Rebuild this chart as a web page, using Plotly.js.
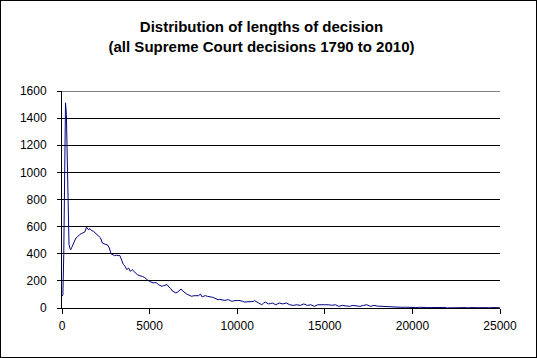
<!DOCTYPE html>
<html>
<head>
<meta charset="utf-8">
<script src="https://cdn.plot.ly/plotly-3.0.1.min.js"></script>
<style>
  html, body { margin: 0; padding: 0; background: #fff; }
  #wrap { position: relative; width: 537px; height: 358px; }
  #chart { width: 537px; height: 358px; }
  #frame { position: absolute; left: 0; top: 0; width: 535px; height: 356px; border: 1px solid #000; pointer-events: none; }
</style>
</head>
<body>
<div id="wrap"><div id="chart"></div><div id="frame"></div></div>
<script>
// Bin starts (words) and counts of decisions.
// Segment A: bins of 50 words, 0..950
const binStartA = 0, binWidthA = 50;
const countsA = [86, 98, 393, 1180, 1513, 1427, 1033, 590, 468, 440,
                 430, 445, 462, 480, 492, 505, 517, 520, 530, 541];
// Segment B: bins of 100 words, 1000..11900
const binStartB = 1000, binWidthB = 100;
const countsB = [541, 548, 553, 560, 596, 578, 585, 570, 565, 553,
                 545, 528, 517, 480, 472, 468, 465, 443, 400, 393,
                 386, 390, 386, 388, 356, 322, 307, 283, 295, 270,
                 283, 270, 255, 246, 240, 238, 232, 226, 212, 205,
                 196, 192, 185, 188, 185, 172, 165, 160, 165, 168,
                 172, 155, 145, 125, 115, 111, 118, 130, 140, 125,
                 111, 105, 98, 92, 86, 90, 91, 94, 91, 103,
                 81, 88, 91, 86, 86, 81, 79, 74, 70, 61,
                 63, 61, 58, 56, 60, 61, 55, 49, 53, 56,
                 55, 56, 54, 50, 44, 44, 45, 44, 44, 48,
                 54, 45, 37, 30, 24, 35, 44, 36, 30, 33];
// Segment C: bins of 200 words, 12000..25000
const binStartC = 12000, binWidthC = 200;
const countsC = [37, 24, 37, 30, 37, 24, 19, 24, 19, 30,
                 19, 24, 12, 24, 22, 24, 24, 20, 24, 12,
                 19, 15, 12, 19, 14, 12, 19, 24, 12, 19,
                 14, 12, 12, 12, 10, 8, 7, 5, 6, 4,
                 5, 3, 5, 2, 4, 3, 4, 2, 3, 4,
                 1, 3, 0, 2, 3, 0, 2, 3, 0, 2,
                 3, 0, 2, 3, 1, 2];

const yTicks = [0, 200, 400, 600, 800, 1000, 1200, 1400, 1600];
const xTicks = [0, 5000, 10000, 15000, 20000, 25000];

const xs = [], ys = [];
function addSeg(start, width, counts) {
  counts.forEach((c, i) => { xs.push(start + i * width); ys.push(c); });
}
addSeg(binStartA, binWidthA, countsA);
addSeg(binStartB, binWidthB, countsB);
addSeg(binStartC, binWidthC, countsC);

const font = 'Arial, "Liberation Sans", sans-serif';

Plotly.newPlot('chart', [{
  x: xs, y: ys, type: 'scatter', mode: 'lines',
  line: { color: '#000080', width: 1 },
  hoverinfo: 'skip', cliponaxis: false
}], {
  width: 537, height: 358,
  margin: { l: 62, r: 37, t: 91, b: 50 },
  paper_bgcolor: '#fff', plot_bgcolor: '#fff',
  showlegend: false,
  title: {
    text: '<b>Distribution of lengths of decision</b><br><b>(all Supreme Court decisions 1790 to 2010)</b>',
    font: { family: font, size: 15, color: '#000' },
    x: 0.487, xref: 'container', xanchor: 'center',
    y: 0.91, yref: 'container', yanchor: 'top'
  },
  shapes: [{
    type: 'line', xref: 'paper', yref: 'y', x0: 0, x1: 1, y0: 1600, y1: 1600,
    line: { color: '#000', width: 1 }, layer: 'below'
  }],
  xaxis: {
    range: [0, 25000], tickvals: xTicks, ticktext: xTicks.map(String),
    showgrid: false, zeroline: false,
    showline: true, linecolor: '#000', linewidth: 1,
    ticks: 'outside', ticklen: 5, tickcolor: '#000', tickwidth: 1,
    ticklabelstandoff: 2,
    tickfont: { family: font, size: 12, color: '#000' },
    fixedrange: true
  },
  yaxis: {
    range: [0, 1600], tickvals: yTicks, ticktext: yTicks.map(String),
    showgrid: true, gridcolor: '#000', gridwidth: 1,
    zeroline: false,
    showline: true, linecolor: '#000', linewidth: 1,
    ticks: 'outside', ticklen: 4, tickcolor: '#000', tickwidth: 1,
    ticklabelstandoff: 8,
    tickfont: { family: font, size: 12, color: '#000' },
    fixedrange: true
  }
}, { displayModeBar: false, staticPlot: true });
</script>
</body>
</html>
